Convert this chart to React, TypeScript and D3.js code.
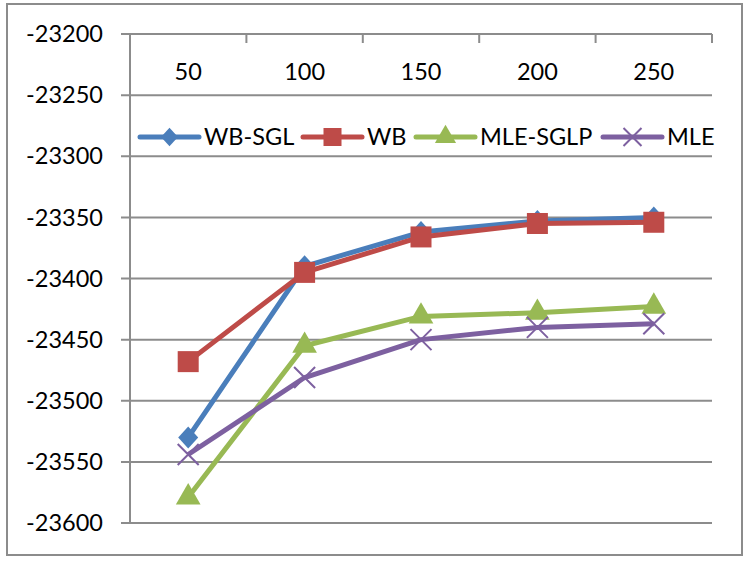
import React, { useEffect, useRef } from 'react';
import * as d3 from 'd3';

const categories = ['50', '100', '150', '200', '250'];
const yTicks = [-23200, -23250, -23300, -23350, -23400, -23450, -23500, -23550, -23600];

const seriesNames = ['WB-SGL', 'WB', 'MLE-SGLP', 'MLE'];
const wbSgl = [-23530, -23390, -23362, -23353, -23350];
const wb = [-23468, -23395, -23366, -23355, -23354];
const mleSglp = [-23579, -23455, -23431, -23428, -23423];
const mle = [-23544, -23481, -23450, -23440, -23437];

const colors = ['#4a7ebb', '#be4b48', '#98b954', '#7d60a0'];
const markers = ['diamond', 'square', 'triangle', 'x'];

const W = 748;
const H = 563;
const FONT = 'Lato, "Open Sans", sans-serif';

const drawMarker = (g: any, kind: string, x: number, y: number, color: string, s: number) => {
  if (kind === 'diamond') {
    g.append('path')
      .attr('d', `M${x},${y - s * 0.55}L${x + s * 0.5},${y}L${x},${y + s * 0.55}L${x - s * 0.5},${y}Z`)
      .attr('fill', color);
  } else if (kind === 'square') {
    g.append('rect')
      .attr('x', x - s / 2)
      .attr('y', y - s / 2)
      .attr('width', s)
      .attr('height', s)
      .attr('fill', color);
  } else if (kind === 'triangle') {
    const sym = d3.symbol().type(d3.symbolTriangle).size(s * s * 0.6);
    g.append('path')
      .attr('d', sym() as string)
      .attr('transform', `translate(${x},${y})`)
      .attr('fill', color);
  } else {
    const h = s / 2;
    g.append('path')
      .attr('d', `M${x - h},${y - h}L${x + h},${y + h}M${x - h},${y + h}L${x + h},${y - h}`)
      .attr('stroke', color)
      .attr('stroke-width', 2)
      .attr('fill', 'none');
  }
};

const App = () => {
  const rootRef = useRef<SVGSVGElement>(null);

  useEffect(() => {
    const svg = d3.select(rootRef.current);
    svg.selectAll('*').remove();

    const left = 130;
    const right = 712;
    const top = 34;
    const bottom = 523;

    const x = d3.scaleBand().domain(categories).range([left, right]);
    const y = d3.scaleLinear().domain([-23600, -23200]).range([bottom, top]);

    // chart border
    svg.append('rect')
      .attr('x', 7)
      .attr('y', 4)
      .attr('width', 735)
      .attr('height', 551)
      .attr('fill', 'white')
      .attr('stroke', '#8c8c8c')
      .attr('stroke-width', 2);

    // gridlines + y ticks
    const grid = svg.append('g');
    yTicks.forEach((t) => {
      grid.append('line')
        .attr('x1', left - 9)
        .attr('x2', right)
        .attr('y1', y(t))
        .attr('y2', y(t))
        .attr('stroke', '#8c8c8c')
        .attr('stroke-width', 2);
      grid.append('text')
        .attr('x', 103)
        .attr('y', y(t))
        .attr('dy', '0.35em')
        .attr('text-anchor', 'end')
        .attr('font-family', FONT)
        .attr('font-size', 23.5)
        .attr('fill', '#000')
        .text(t);
    });

    // vertical axis
    svg.append('line')
      .attr('x1', left)
      .attr('x2', left)
      .attr('y1', top)
      .attr('y2', bottom)
      .attr('stroke', '#8c8c8c')
      .attr('stroke-width', 2);

    // category axis at top
    const ticksX = categories.map((c) => x(c) as number).concat([right]);
    ticksX.forEach((tx) => {
      svg.append('line')
        .attr('x1', tx)
        .attr('x2', tx)
        .attr('y1', top)
        .attr('y2', top + 9)
        .attr('stroke', '#8c8c8c')
        .attr('stroke-width', 2);
    });
    categories.forEach((c) => {
      svg.append('text')
        .attr('x', (x(c) as number) + x.bandwidth() / 2)
        .attr('y', 80)
        .attr('text-anchor', 'middle')
        .attr('font-family', FONT)
        .attr('font-size', 23.5)
        .attr('fill', '#000')
        .text(c);
    });

    // series
    const data = [wbSgl, wb, mleSglp, mle];
    const cx = (i: number) => (x(categories[i]) as number) + x.bandwidth() / 2;
    const line = d3.line<number>()
      .x((_, i) => cx(i))
      .y((d) => y(d));

    data.forEach((vals, si) => {
      const g = svg.append('g');
      g.append('path')
        .attr('d', line(vals) as string)
        .attr('fill', 'none')
        .attr('stroke', colors[si])
        .attr('stroke-width', 5)
        .attr('stroke-linejoin', 'round');
      vals.forEach((v, i) => {
        drawMarker(g, markers[si], cx(i), y(v), colors[si], si === 0 ? 20 : 21);
      });
    });

    // legend
    const legendX = [140, 303, 416, 603];
    const legendY = 137;
    seriesNames.forEach((name, si) => {
      const g = svg.append('g');
      const lx = legendX[si];
      g.append('line')
        .attr('x1', lx)
        .attr('x2', lx + 59)
        .attr('y1', legendY)
        .attr('y2', legendY)
        .attr('stroke', colors[si])
        .attr('stroke-width', 5)
        .attr('stroke-linecap', 'round');
      drawMarker(g, markers[si], lx + 29.5, legendY, colors[si], si === 0 ? 17 : 18);
      g.append('text')
        .attr('x', lx + 64)
        .attr('y', legendY)
        .attr('dy', '0.35em')
        .attr('font-family', FONT)
        .attr('font-size', 23.5)
        .attr('fill', '#000')
        .text(name);
    });
  }, []);

  return (
    <div style={{ fontSize: 0 }}>
      <svg ref={rootRef} width={W} height={H} style={{ position: 'absolute', left: 0, top: 0 }}></svg>
    </div>
  );
};

export default App;
